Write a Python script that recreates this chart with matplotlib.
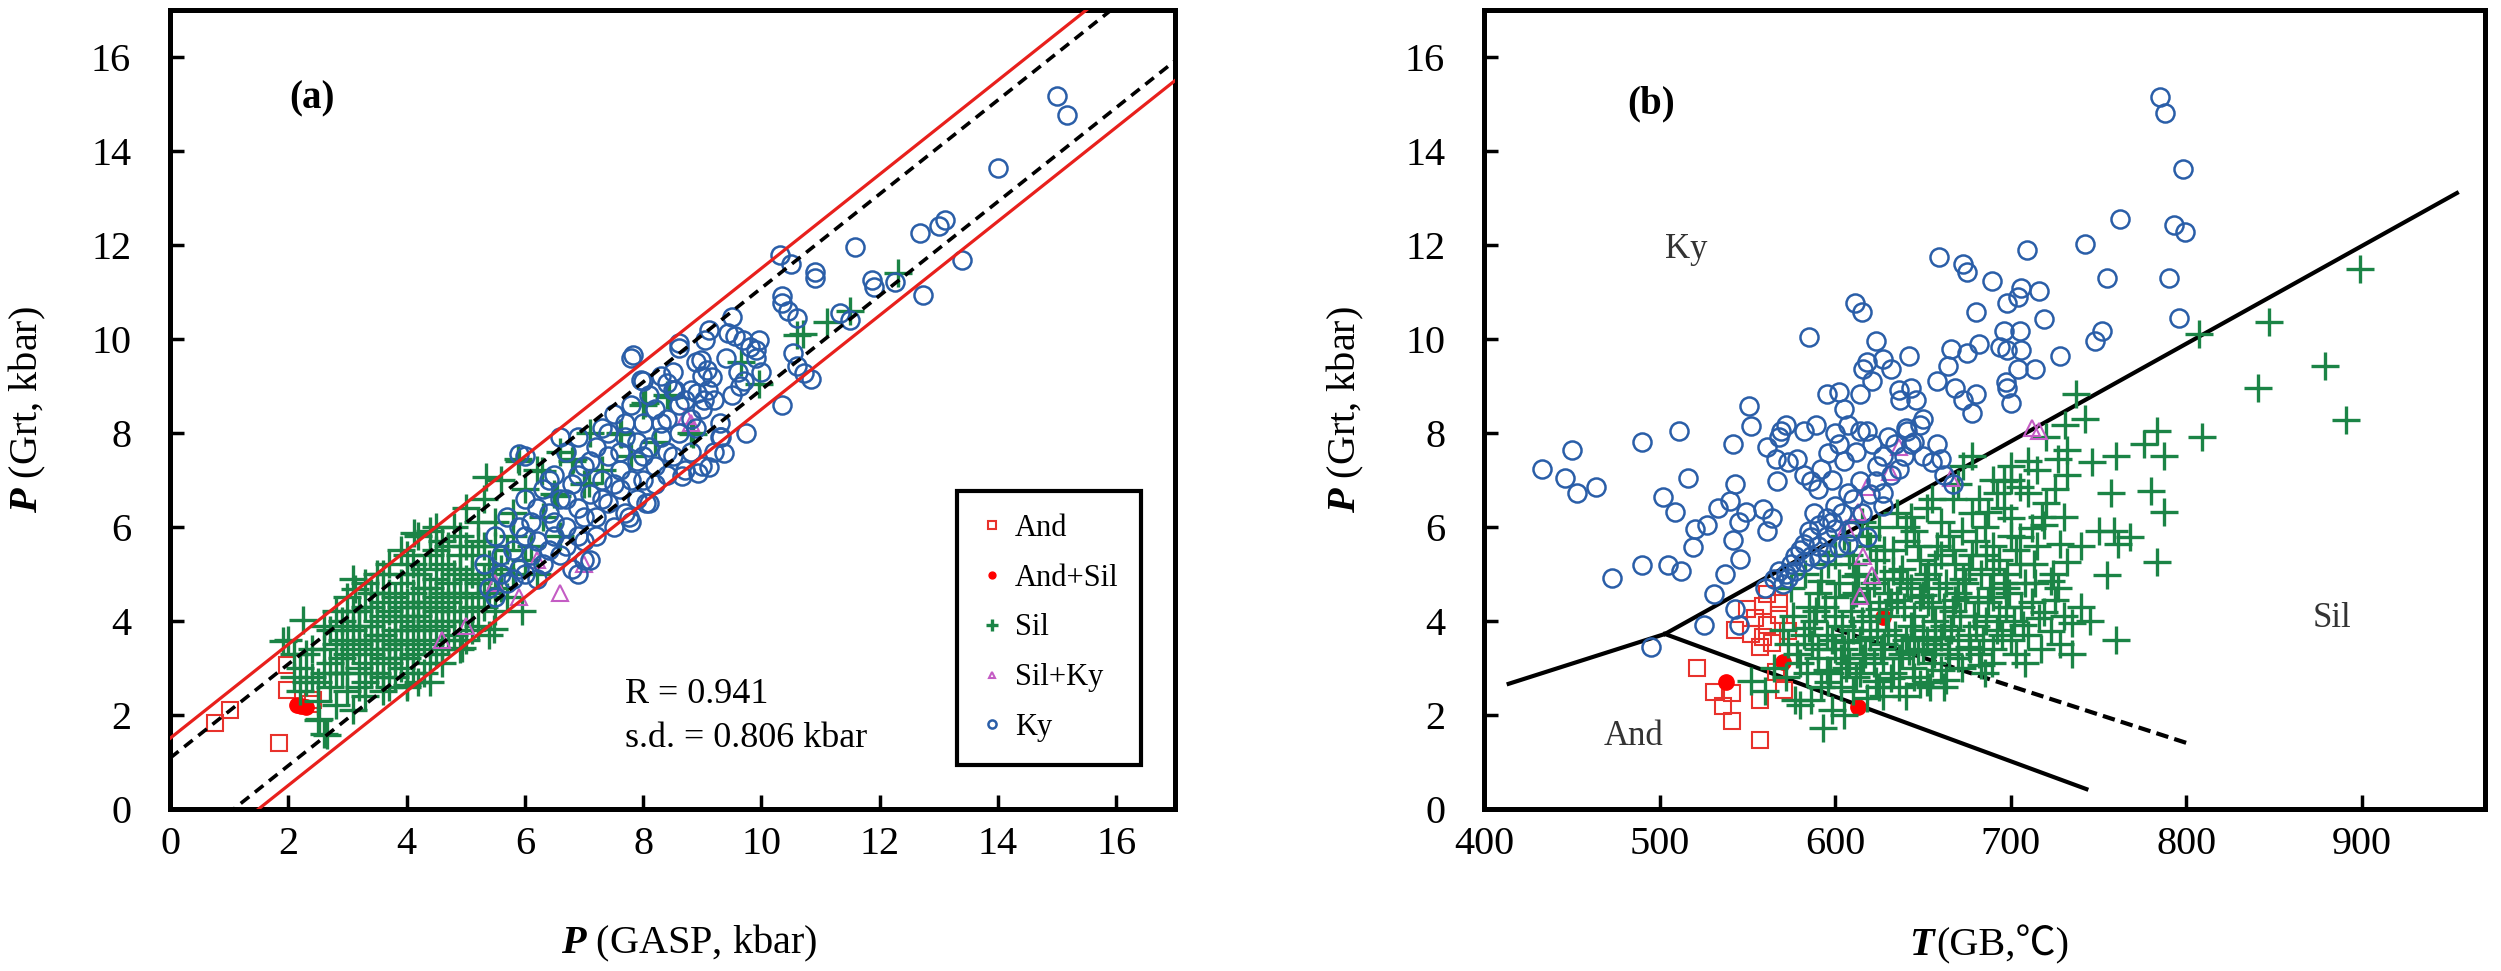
import matplotlib
matplotlib.use('Agg')
import matplotlib.pyplot as plt
from matplotlib.offsetbox import TextArea, HPacker, AnchoredOffsetbox
import numpy as np

plt.rcParams['font.family'] = ['Liberation Serif', 'DejaVu Serif', 'Noto Sans CJK SC']
plt.rcParams['mathtext.fontset'] = 'custom'
plt.rcParams['mathtext.bf'] = 'Liberation Serif:bold:italic'
plt.rcParams['mathtext.rm'] = 'Liberation Serif'

# colours
c_and = '#e8322c'
c_andsil = '#ff0000'
c_sil = '#1b8446'
c_silky = '#c45cc4'
c_ky = '#2a5ea8'

# ---------- panel (a): P(GASP) vs P(Grt) ----------
a_and_x = [0.76, 1.01, 1.84, 1.97, 1.97, 2.42, 2.36]
a_and_y = [1.83, 2.10, 1.41, 2.53, 3.06, 2.32, 2.24]

a_andsil_x = [2.15, 2.22, 2.30]
a_andsil_y = [2.20, 2.18, 2.16]

a_sil_x = [2.0, 2.1, 2.2, 2.3, 2.4, 2.5, 2.5, 2.6, 2.6, 2.7, 2.7, 2.8, 2.8, 2.9, 2.9, 3.0, 3.0, 3.0,
           3.1, 3.1, 3.2, 3.2, 3.3, 3.3, 3.4, 3.4, 3.5, 3.5, 3.6, 3.6, 3.7, 3.7, 3.8, 3.8, 3.9, 3.9,
           4.0, 4.0, 4.0, 4.1, 4.1, 4.2, 4.2, 4.3, 4.3, 4.3, 4.4, 4.4, 4.5, 4.5, 4.6, 4.6, 4.7, 4.7,
           4.8, 4.8, 4.9, 4.9, 5.0, 5.0, 5.1, 5.1, 5.2, 5.2, 5.3, 5.4, 5.4, 5.5, 5.6, 5.6, 5.7, 5.8,
           5.9, 5.95, 6.0, 6.1, 6.2, 6.3, 6.5, 6.6, 6.8, 7.0, 7.1, 7.3, 7.6, 7.8, 8.0, 8.2, 8.4, 8.8,
           9.66, 9.96, 10.6, 11.1, 12.31, 11.5, 10.7,
           3.0, 3.2, 3.3, 3.5, 3.5, 3.6, 3.7, 3.8, 3.9, 4.0, 4.1, 4.2, 4.3, 4.4, 4.5, 4.6, 4.7, 4.8,
           4.9, 5.0, 3.4, 2.9, 3.1, 2.8, 3.6, 3.9, 4.5, 3.3, 3.8, 4.2, 4.6, 5.2, 5.5, 2.4, 2.6, 2.2,
           4.4, 4.0, 3.7, 4.9, 5.3, 5.8, 6.2, 6.6, 5.6, 4.6, 1.91, 2.25, 3.12, 4.13, 5.34, 5.88, 6.29,
           6.82, 6.55, 7.09, 7.63, 8.03, 8.44, 8.84, 2.52, 2.65, 4.0, 4.4, 4.94, 5.48,
           2.7, 2.8, 2.9, 3.0, 3.1, 3.1, 3.2, 3.2, 3.3, 3.3, 3.4, 3.4, 3.4, 3.5, 3.5, 3.6, 3.6, 3.7,
           3.7, 3.7, 3.8, 3.8, 3.9, 3.9, 4.0, 4.0, 4.0, 4.1, 4.1, 4.1, 4.2, 4.2, 4.2, 4.3, 4.3, 4.4,
           4.4, 4.4, 4.5, 4.5, 4.5, 4.6, 4.6, 4.7, 4.7, 4.7, 4.8, 4.8, 4.9, 4.9, 5.0, 5.0, 5.0, 5.1,
           5.1, 5.2, 5.2, 5.3, 5.3, 5.4, 5.5, 5.5, 5.7, 5.8, 6.0, 3.6, 2.5, 2.3, 2.6, 2.1]
a_sil_y = [3.6, 3.3, 3.0, 2.7, 3.4, 2.3, 1.9, 1.6, 3.9, 3.1, 2.6, 3.5, 2.2, 4.0, 2.9, 3.3, 4.5, 2.5,
           3.8, 2.1, 4.2, 3.0, 3.6, 2.7, 4.6, 3.3, 4.0, 2.9, 3.7, 4.4, 3.1, 2.6, 4.1, 3.5, 4.8, 3.0,
           3.8, 4.4, 2.6, 5.2, 3.3, 4.1, 5.8, 3.6, 4.7, 2.9, 5.4, 4.0, 3.3, 4.9, 5.7, 4.3, 3.6, 5.1,
           4.6, 6.0, 3.4, 5.4, 4.2, 6.4, 5.0, 3.8, 5.7, 4.5, 6.6, 5.2, 3.7, 6.1, 4.7, 7.0, 5.5, 6.3,
           7.4, 4.2, 6.8, 5.6, 7.2, 6.2, 6.7, 7.6, 7.4, 6.9, 8.0, 7.2, 8.0, 7.5, 8.6, 7.8, 8.8, 8.0,
           9.5, 9.04, 10.08, 10.35, 11.4, 10.6, 10.1,
           3.9, 3.5, 4.3, 3.4, 4.6, 3.2, 4.2, 3.8, 4.3, 3.2, 4.6, 3.8, 5.1, 3.5, 4.5, 3.9, 4.8, 4.2,
           5.8, 4.9, 3.9, 3.6, 4.9, 4.2, 5.0, 5.5, 6.0, 2.4, 2.8, 2.7, 3.1, 3.9, 4.2, 2.8, 3.4, 2.5,
           4.4, 5.0, 3.6, 4.5, 4.9, 5.0, 5.0, 5.8, 5.1, 5.2, 3.56, 4.02, 4.68, 5.87, 7.06, 7.45, 7.19,
           7.45, 6.66, 6.93, 7.98, 8.64, 8.77, 7.98, 1.91, 1.58, 2.64, 2.70, 3.43, 3.83,
           3.8, 2.9, 3.2, 2.9, 3.4, 4.2, 2.6, 3.9, 3.1, 4.8, 2.9, 3.6, 4.3, 3.7, 5.0, 2.8, 4.1, 3.4,
           4.6, 5.2, 3.2, 4.5, 3.6, 4.0, 3.5, 4.1, 5.4, 2.9, 3.9, 4.3, 3.4, 4.4, 5.0, 3.9, 4.3, 3.1,
           4.7, 5.9, 3.8, 4.2, 5.5, 3.4, 4.6, 4.0, 4.4, 5.6, 3.7, 5.0, 4.0, 5.1, 3.6, 4.6, 5.6, 4.3,
           5.4, 4.8, 6.1, 4.3, 5.6, 4.6, 5.0, 5.6, 4.5, 5.8, 5.3, 2.5, 2.7, 3.3, 2.9, 2.8]

a_silky_x = [8.73, 8.80, 6.2, 5.5, 5.0, 4.6, 6.6, 7.0, 5.9]
a_silky_y = [8.35, 8.20, 5.3, 4.8, 3.9, 3.6, 4.6, 5.2, 4.5]

a_ky_x = [5.3, 5.4, 5.5, 5.6, 5.7, 5.7, 5.8, 5.9, 5.9, 6.0, 6.0, 6.1, 6.1, 6.2, 6.3, 6.3, 6.4, 6.5,
          6.5, 6.6, 6.6, 6.7, 6.7, 6.8, 6.8, 6.9, 6.9, 7.0, 7.0, 7.1, 7.1, 7.2, 7.2, 7.3, 7.3, 7.4,
          7.4, 7.5, 7.5, 7.6, 7.6, 7.7, 7.7, 7.8, 7.8, 7.8, 7.9, 7.9, 8.0, 8.0, 8.0, 8.1, 8.1, 8.2,
          8.2, 8.3, 8.3, 8.4, 8.4, 8.5, 8.5, 8.6, 8.6, 8.7, 8.8, 8.8, 8.9, 8.9, 9.0, 9.0, 9.05, 9.1,
          9.12, 9.2, 9.3, 9.31, 9.37, 9.44, 9.5, 9.56, 9.6, 9.63, 9.68, 9.73, 9.8, 9.9, 9.9, 9.96,
          10.32, 10.34, 10.35, 10.35, 10.45, 10.5, 10.54, 10.6, 10.6, 10.72, 10.84, 10.9, 10.9,
          11.32, 11.5, 11.58, 11.87, 11.9, 12.25, 12.68, 13.0, 13.1, 12.73, 13.39, 14.0, 15.0, 15.16,
          7.82, 7.96, 8.41, 8.53, 8.91, 9.03, 8.66, 8.92, 9.11, 8.05, 7.76, 8.6, 8.98, 9.08, 9.17,
          5.9, 6.6, 6.9, 7.0,
          5.5, 5.6, 5.8, 6.0, 6.0, 6.2, 6.2, 6.4, 6.4, 6.5, 6.7, 6.7, 6.9, 6.9, 7.0, 7.1, 7.2, 7.3,
          7.4, 7.5, 7.6, 7.7, 7.8, 7.9, 8.0, 8.1, 8.2, 8.3, 8.4, 8.5, 8.6, 8.7, 8.8, 9.0, 9.2, 9.3,
          9.4, 9.5, 9.7, 10.0]
a_ky_y = [5.2, 4.7, 5.8, 5.0, 6.2, 4.8, 5.5, 6.0, 5.1, 6.6, 7.5, 5.4, 6.1, 5.7, 6.8, 5.2, 6.3, 7.1,
          5.8, 6.6, 5.4, 7.6, 6.0, 6.9, 5.1, 6.4, 7.9, 7.3, 5.7, 6.7, 5.3, 7.7, 6.2, 8.1, 7.0, 6.5,
          7.5, 8.4, 6.0, 7.2, 6.8, 7.9, 6.3, 8.6, 6.1, 9.6, 7.4, 6.6, 9.1, 8.2, 7.0, 6.5, 7.7, 8.5,
          7.3, 7.9, 9.2, 7.1, 8.3, 8.9, 7.5, 8.6, 9.8, 7.2, 8.9, 7.6, 9.5, 8.1, 8.5, 7.3, 9.98, 8.9,
          10.19, 7.6, 7.9, 7.92, 7.56, 10.12, 10.47, 10.05, 9.3, 9.0, 9.98, 8.0, 9.83, 9.6, 9.77, 9.98,
          11.79, 10.9, 8.6, 10.76, 10.6, 11.6, 9.7, 9.43, 10.45, 9.28, 9.14, 11.43, 11.29,
          10.55, 10.4, 11.96, 11.26, 11.1, 11.2, 12.25, 12.4, 12.53, 10.94, 11.68, 13.63, 15.16, 14.77,
          9.66, 9.13, 9.06, 8.92, 8.85, 8.7, 7.07, 7.14, 7.28, 6.51, 6.2, 9.91, 9.55, 9.34, 9.19,
          7.55, 7.9, 5.0, 5.3,
          4.5, 5.4, 4.9, 5.0, 5.8, 6.4, 4.9, 5.5, 7.0, 6.1, 5.6, 6.6, 5.8, 7.1, 6.2, 7.4, 5.8, 6.6,
          8.0, 6.9, 7.6, 8.2, 7.0, 7.8, 7.5, 8.8, 6.9, 8.2, 7.6, 9.3, 8.0, 8.7, 8.3, 9.2, 8.7, 8.2,
          9.6, 8.8, 9.1, 9.3]

# regression band offsets (kbar)
band_red = 1.5
band_dash = 1.08

# ---------- panel (b): T(GB) vs P(Grt) ----------
b_and_t = [521, 531, 536, 541, 557, 557, 541, 566, 571, 550, 554, 559, 552, 561, 564, 568, 573,
           559, 543, 568, 561, 557]
b_and_p = [2.99, 2.48, 2.19, 1.86, 1.46, 2.32, 2.46, 2.92, 2.52, 4.25, 4.05, 4.32, 3.72, 3.92,
           3.52, 4.12, 3.78, 3.65, 3.81, 4.38, 4.58, 3.45]

b_andsil_t = [537.5, 570, 613, 627]
b_andsil_p = [2.69, 3.13, 2.17, 4.09]

b_sil_t = [580, 586, 593, 598, 605, 610, 577, 552, 560, 623, 632, 648, 640, 618,
           565, 572, 578, 584, 590, 596, 600, 606, 612, 617, 622, 628, 633, 638, 644, 650, 655,
           660, 665, 670, 676, 682, 690, 587, 603, 625, 645, 657, 672,
           570, 576, 582, 588, 594, 598, 604, 609, 614, 619, 624, 629, 634, 639, 643, 648, 652,
           657, 662, 666, 671, 676, 681, 686, 692, 697, 702, 707, 712, 716, 719, 723, 725, 730,
           735, 740, 760, 600, 615, 635, 655, 668, 690, 585, 607, 625, 645, 660, 680, 700,
           575, 583, 590, 596, 602, 608, 613, 618, 623, 628, 633, 638, 643, 648, 653, 658, 663,
           668, 673, 678, 683, 688, 693, 698, 703, 708, 713, 723, 732, 755, 783, 620, 640, 660,
           680, 700, 610, 630, 650, 670, 690,
           605, 615, 625, 635, 640, 645, 652, 660, 667, 672, 678, 685, 687, 692, 696, 700, 705,
           710, 712, 719, 705, 728, 750, 759, 768, 761, 757, 780, 787, 696, 720, 730, 740, 690, 665,
           673, 678, 727, 732, 732, 746, 760, 776, 783, 787, 809, 731, 742, 737, 715, 700, 720, 690,
           807, 847, 899, 879, 841, 891,
           595, 620, 642, 663, 685, 708, 592, 611, 633, 651, 674, 697, 589, 627, 654, 683, 717,
           595, 600, 605, 610, 612, 616, 620, 622, 626, 630, 632, 636, 640, 641, 645, 647, 650, 653,
           656, 659, 662, 664, 667, 670, 674, 677, 679, 684, 687, 689, 693, 695, 699, 703, 706, 710,
           714, 585, 590, 597, 603, 614, 627, 636, 652, 662, 600, 610, 618, 628, 637, 647, 657, 667,
           676, 686, 696, 705, 715, 724, 580, 573, 592, 608, 643, 655, 670, 682, 700, 710, 725, 718,
           728, 735, 745, 727]
b_sil_p = [2.20, 2.32, 1.73, 2.10, 1.99, 2.50, 2.32, 2.72, 2.50, 2.72, 2.79, 2.66, 2.40, 2.35,
           3.00, 2.80, 3.30, 2.90, 3.20, 2.70, 3.40, 3.00, 2.80, 3.30, 3.10, 3.50, 2.90, 3.30, 3.00,
           3.40, 3.10, 2.95, 3.30, 3.20, 3.45, 3.30, 3.40, 3.50, 3.20, 2.60, 2.80, 3.50, 3.00,
           3.80, 4.10, 3.70, 4.00, 4.30, 3.60, 3.90, 4.20, 3.60, 4.40, 3.80, 4.10, 3.70, 4.30, 3.90,
           4.50, 3.60, 4.00, 4.30, 3.80, 4.10, 3.70, 4.40, 4.00, 3.80, 4.30, 4.00, 3.92, 4.40, 4.05,
           4.18, 3.78, 4.45, 4.10, 3.95, 4.30, 3.59, 4.50, 4.00, 4.45, 4.30, 4.45, 4.50, 3.85, 3.55,
           4.25, 3.65, 3.65, 3.90, 3.60,
           4.70, 5.00, 4.60, 5.20, 4.80, 5.40, 5.00, 4.70, 5.30, 4.90, 5.50, 5.10, 4.70, 5.30, 5.00,
           5.60, 4.80, 5.20, 4.90, 5.40, 5.00, 4.70, 5.30, 5.00, 5.50, 4.80, 5.20, 4.85, 5.25, 4.98,
           5.25, 5.60, 5.70, 5.40, 5.70, 5.80, 4.55, 4.60, 4.55, 4.60, 5.10,
           5.80, 6.10, 6.00, 6.30, 6.00, 5.90, 6.40, 6.10, 6.60, 5.90, 6.30, 6.00, 6.31, 6.71, 6.40,
           6.18, 6.84, 6.71, 5.98, 6.04, 5.78, 5.64, 5.91, 5.91, 5.78, 5.64, 6.71, 6.77, 6.31, 6.97,
           6.50, 6.20, 5.60, 5.60, 5.80,
           7.30, 7.50, 7.44, 7.10, 7.64, 7.37, 7.50, 7.77, 8.03, 7.50, 7.90, 8.17, 8.30, 8.83, 7.20,
           7.30, 7.90, 7.00,
           10.10, 10.36, 11.49, 9.43, 8.96, 8.27,
           2.95, 3.65, 3.35, 2.75, 2.90, 3.10, 4.85, 4.95, 5.05, 4.90, 4.80, 4.70, 4.20, 3.20, 2.60,
           3.05, 3.40,
           3.70, 4.10, 3.40, 3.80, 4.60, 3.20, 4.10, 4.80, 3.40, 3.80, 4.40, 3.20, 3.60, 4.80, 4.10,
           3.35, 3.80, 4.40, 3.30, 4.70, 3.90, 3.40, 4.20, 3.60, 4.50, 3.40, 4.10, 3.60, 4.40, 3.10,
           4.10, 3.70, 4.60, 3.30, 4.30, 3.70, 4.80, 4.30, 3.40, 2.90, 2.60, 2.90, 2.40, 2.60, 2.70,
           2.60, 5.40, 5.20, 5.80, 5.50, 4.90, 5.60, 5.20, 5.50, 5.10, 5.40, 4.80, 5.20, 5.60, 5.00,
           3.10, 3.50, 2.60, 3.10, 6.20, 6.60, 6.90, 6.60, 7.00, 7.40, 6.80, 6.20, 3.50, 3.30, 4.00,
           4.70]

b_silky_t = [636, 631, 618, 613, 606, 616, 621, 614, 666, 712, 716]
b_silky_p = [7.70, 7.17, 6.84, 6.31, 5.98, 5.38, 4.98, 4.52, 7.04, 8.10, 8.03]

b_ky_t = [433, 446, 450, 453, 464, 473, 490, 490, 502, 505, 511, 512, 509, 516, 519, 520, 527,
          531, 533, 537, 540, 542, 543, 542, 545, 546, 525, 495, 551, 552, 549, 559, 561, 564, 567,
          568, 569, 572, 561, 566, 573, 578, 582,
          568, 577, 582, 586, 591, 595, 600, 607, 614, 586, 592, 596, 602, 582, 589, 595, 602, 605,
          607, 614, 616, 618, 621, 623, 611, 615, 585, 627, 632, 636, 637, 642, 643, 646, 648, 641,
          643, 650, 655, 658, 660, 662, 667, 658, 664, 668, 673, 678, 680, 666, 675, 682, 680, 689,
          673, 659, 675, 694, 696, 698, 698, 704, 706, 709, 716, 719, 705, 706, 704, 697, 698, 700,
          714, 728, 742, 748, 752, 755, 762, 785, 788, 798, 793, 799, 790, 796,
          623, 627, 632, 636, 639, 634, 627, 618, 621, 614, 627, 609, 618, 595, 602, 607, 586, 591,
          582, 577, 573, 570, 543, 545,
          600, 604, 610, 615, 620, 624, 630, 640, 645, 650, 575, 580, 585, 590, 595, 598, 588, 572,
          565, 560, 612, 605, 598, 590, 600]
b_ky_p = [7.24, 7.04, 7.64, 6.71, 6.84, 4.91, 5.18, 7.80, 6.64, 5.18, 8.03, 5.05, 6.31, 7.04,
          5.58, 5.95, 6.04, 4.58, 6.41, 5.00, 6.55, 7.77, 6.91, 5.71, 6.11, 5.31, 3.92, 3.45, 8.57,
          8.14, 6.31, 6.37, 5.91, 6.18, 6.97, 7.90, 8.03, 8.17, 7.70, 7.44, 7.37, 7.44, 7.10,
          5.05, 5.38, 5.64, 5.78, 6.04, 6.18, 6.44, 6.71, 6.97, 6.97, 7.24, 7.57, 7.77, 8.03, 8.17,
          8.83, 8.86, 8.50, 8.17, 8.83, 9.36, 9.50, 9.10, 9.96, 10.76, 10.56, 10.03, 9.56, 9.36,
          8.90, 8.70, 9.63, 8.96, 8.70, 8.17, 8.03, 7.77, 7.50, 7.37, 7.77, 7.44, 7.10, 6.91, 9.10,
          9.43, 8.96, 8.70, 8.43, 8.83, 9.79, 9.69, 9.89, 10.56, 11.22, 11.58, 11.75, 11.42, 9.83,
          10.16, 9.76, 10.76, 10.89, 11.09, 11.89, 11.02, 10.42, 10.16, 9.76, 9.36, 9.07, 8.96,
          8.63, 9.36, 9.63, 12.02, 9.96, 10.16, 11.29, 12.55, 15.14, 14.81, 13.61, 12.42, 12.28,
          11.29, 10.45,
          6.97, 6.71, 7.10, 7.24, 7.50, 7.77, 7.50, 8.03, 7.77, 8.03, 6.44, 5.91, 5.78, 5.44, 5.58,
          5.64, 5.38, 5.31, 5.25, 5.05, 4.91, 4.78, 4.25, 3.92,
          5.95, 6.30, 6.60, 6.30, 6.70, 7.30, 7.90, 8.10, 7.80, 8.30, 5.20, 5.50, 5.90, 5.60, 5.80,
          6.10, 6.30, 5.00, 4.90, 4.70, 7.60, 7.40, 7.00, 6.80, 8.00]

# phase boundaries (T, P)
ky_sil_t, ky_sil_p = [503, 954], [3.72, 13.10]
and_ky_t, and_ky_p = [414, 503], [2.66, 3.72]
and_sil_t, and_sil_p = [503, 743], [3.72, 0.42]
dash_t, dash_p = [600, 801], [3.82, 1.39]

fig = plt.figure(figsize=(25.01, 9.71), dpi=100)
ax1 = fig.add_axes([0.068, 0.167, 0.402, 0.823])
ax2 = fig.add_axes([0.5934, 0.167, 0.4002, 0.823])

def draw_points(ax, xs, ys):
    ax.plot(xs[0], ys[0], 's', ms=12, mfc='none', mec=c_and, mew=1.5, ls='none', label='And', zorder=4)
    ax.plot(xs[1], ys[1], 'o', ms=11, mfc=c_andsil, mec=c_andsil, ls='none', label='And+Sil', zorder=4)
    ax.plot(xs[2], ys[2], '+', ms=20, mec=c_sil, mew=2.4, ls='none', label='Sil', zorder=5)
    ax.plot(xs[3], ys[3], '^', ms=11, mfc='none', mec=c_silky, mew=1.5, ls='none', label='Sil+Ky', zorder=6)
    ax.plot(xs[4], ys[4], 'o', ms=13, mfc='none', mec=c_ky, mew=1.8, ls='none', label='Ky', zorder=7)

def style_axes(ax):
    for s in ax.spines.values():
        s.set_linewidth(3.6)
    ax.tick_params(direction='in', length=10, width=2.5, labelsize=29, top=False, right=False)
    ax.tick_params(axis='y', pad=28)
    ax.tick_params(axis='x', pad=12)

# panel a
draw_points(ax1, [a_and_x, a_andsil_x, a_sil_x, a_silky_x, a_ky_x],
            [a_and_y, a_andsil_y, a_sil_y, a_silky_y, a_ky_y])
xl = np.array([0, 17])
ax1.plot(xl, xl + band_red, color='#e8201c', lw=2.3, zorder=8)
ax1.plot(xl, xl - band_red, color='#e8201c', lw=2.3, zorder=8)
ax1.plot(xl, xl + band_dash, color='black', lw=2.6, ls=(0, (3, 2)), zorder=8)
ax1.plot(xl, xl - band_dash, color='black', lw=2.6, ls=(0, (3, 2)), zorder=8)
ax1.set_xlim(0, 17)
ax1.set_ylim(0, 17)
ax1.set_xticks(range(0, 17, 2))
ax1.set_yticks(range(0, 17, 2))
style_axes(ax1)
ax1.set_xlabel(r'$\mathbf{P}$ (GASP, kbar)', fontsize=29)
ax1.set_ylabel(r'$\mathbf{P}$ (Grt, kbar)', fontsize=29)
ax1.xaxis.set_label_coords(0.516, -0.143)
ax1.yaxis.set_label_coords(-0.121, 0.5)
ax1.text(2.4, 15.1, '(a)', fontsize=28, fontweight='bold', ha='center', va='center')
ax1.text(7.7, 2.44, 'R = 0.941', fontsize=26, ha='left', va='center')
ax1.text(7.7, 1.5, 's.d. = 0.806 kbar', fontsize=26, ha='left', va='center')
leg = ax1.legend(loc='lower right', bbox_to_anchor=(0.966, 0.055), fontsize=22, markerscale=0.45,
                 handlelength=0.8, handletextpad=0.35, labelspacing=0.68, borderpad=0.75,
                 borderaxespad=0, fancybox=False, edgecolor='black', framealpha=1)
leg.get_frame().set_linewidth(3)
leg.set_zorder(10)

# panel b
ax2.plot(ky_sil_t, ky_sil_p, color='black', lw=3, zorder=2)
ax2.plot(and_ky_t, and_ky_p, color='black', lw=3, zorder=2)
ax2.plot(and_sil_t, and_sil_p, color='black', lw=3, zorder=2)
ax2.plot(dash_t, dash_p, color='black', lw=3, ls=(0, (3, 1.5)), zorder=2)
draw_points(ax2, [b_and_t, b_andsil_t, b_sil_t, b_silky_t, b_ky_t],
            [b_and_p, b_andsil_p, b_sil_p, b_silky_p, b_ky_p])
ax2.set_xlim(400, 970)
ax2.set_ylim(0, 17)
ax2.set_xticks(range(400, 901, 100))
ax2.set_yticks(range(0, 17, 2))
style_axes(ax2)
ax2.set_ylabel(r'$\mathbf{P}$ (Grt, kbar)', fontsize=29)
ax2.yaxis.set_label_coords(-0.118, 0.5)

# x label of panel b: bold-italic T followed by plain text with the Celsius sign
t_part = TextArea('T', textprops=dict(fontsize=29, fontweight='bold', fontstyle='italic',
                                      family='Liberation Serif'))
rest_part = TextArea('(GB,℃)', textprops=dict(fontsize=29,
                                              family=['Liberation Serif', 'Noto Sans CJK SC', 'DejaVu Sans']))
xlab = HPacker(children=[t_part, rest_part], align='baseline', pad=0, sep=2)
xlab_box = AnchoredOffsetbox(loc='upper center', child=xlab, pad=0, borderpad=0, frameon=False,
                             bbox_to_anchor=(0.505, -0.145), bbox_transform=ax2.transAxes)
ax2.add_artist(xlab_box)

ax2.text(495, 15.0, '(b)', fontsize=28, fontweight='bold', ha='center', va='center')
ax2.text(515, 11.9, 'Ky', fontsize=25, ha='center', va='center', color='#333333')
ax2.text(883, 4.05, 'Sil', fontsize=25, ha='center', va='center', color='#333333')
ax2.text(485, 1.53, 'And', fontsize=25, ha='center', va='center', color='#333333')

fig.savefig('out.png', dpi=100)
